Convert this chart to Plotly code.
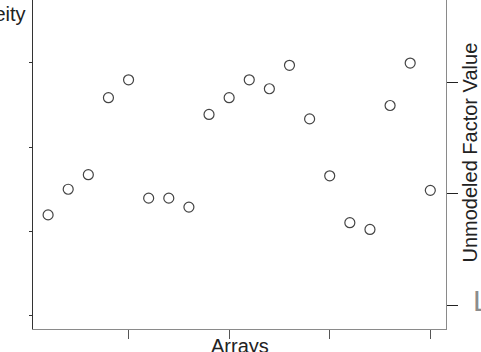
import plotly.graph_objects as go

# Array index and unmodeled factor value for each array
arrays = list(range(1, 21))
factor_values = [-0.19, 0.04, 0.17, 0.86, 1.02, -0.04, -0.04, -0.12, 0.71, 0.86,
                 1.02, 0.94, 1.15, 0.67, 0.16, -0.26, -0.32, 0.79, 1.17, 0.03]

x_ticks = [5, 10, 15, 20]
right_ticks = [-1, 0, 1]
left_ticks = [0, 1, 2, 3]

FONT = "Liberation Sans, Arial, sans-serif"

fig = go.Figure()

fig.add_trace(go.Scatter(
    x=arrays, y=factor_values, mode="markers",
    marker=dict(symbol="circle-open", size=10, color="#444444",
                line=dict(width=1.2, color="#444444")),
    yaxis="y", showlegend=False, hoverinfo="skip",
))

# Empty trace so the left-hand heterogeneity axis is drawn
fig.add_trace(go.Scatter(x=[], y=[], yaxis="y2", showlegend=False))

fig.update_layout(
    width=481, height=352,
    margin=dict(l=33, r=35, t=0, b=23, pad=0),
    paper_bgcolor="white", plot_bgcolor="white",
    font=dict(family=FONT, color="#222222"),
    xaxis=dict(
        range=[0.25, 20.78], showgrid=False, zeroline=False,
        showline=True, linecolor="#8a8a8a", linewidth=1,
        tickmode="array", tickvals=x_ticks, showticklabels=False,
        ticks="outside", ticklen=9, tickcolor="#555555", tickwidth=1,
    ),
    yaxis=dict(
        side="right", range=[-1.212, 1.735], showgrid=False, zeroline=False,
        showline=True, linecolor="#8a8a8a", linewidth=1,
        tickmode="array", tickvals=right_ticks, showticklabels=False,
        ticks="outside", ticklen=11, tickcolor="#222222", tickwidth=1,
    ),
    yaxis2=dict(
        overlaying="y", side="left", range=[-0.16, 3.748],
        showgrid=False, zeroline=False,
        showline=True, linecolor="#333333", linewidth=1,
        tickmode="array", tickvals=left_ticks, showticklabels=False,
        ticks="outside", ticklen=3, tickcolor="#333333", tickwidth=1,
    ),
    annotations=[
        dict(text="Heterogeneity", xref="paper", yref="paper",
             x=0, y=1, xshift=-5, yshift=-1, xanchor="right", yanchor="top",
             showarrow=False, font=dict(size=20, family=FONT, color="#222222")),
        dict(text="Unmodeled Factor Value", xref="paper", yref="paper",
             x=1, y=0.5365, xshift=24, textangle=-90,
             xanchor="center", yanchor="middle",
             showarrow=False, font=dict(size=20, family=FONT, color="#222222")),
        dict(text="Arrays", xref="paper", yref="paper",
             x=0.5, y=0, yshift=-4, xanchor="center", yanchor="top",
             showarrow=False, font=dict(size=20, family=FONT, color="#222222")),
        dict(text="L", xref="paper", yref="y",
             x=1, y=-1, xshift=25, yshift=5, xanchor="left", yanchor="middle",
             showarrow=False, font=dict(size=30, family=FONT, color="#8c8c8c")),
    ],
)

fig.write_html("out.html")
